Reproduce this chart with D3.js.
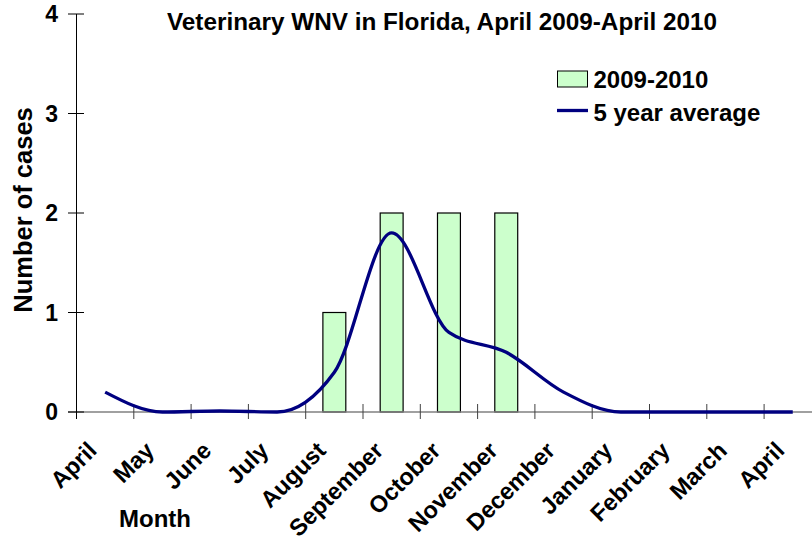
<!DOCTYPE html>
<html>
<head>
<meta charset="utf-8">
<script src="https://d3js.org/d3.v7.min.js"></script>
<style>
  body { margin: 0; background: #fff; }
  text { font-family: "Liberation Sans", Arial, sans-serif; font-weight: bold; fill: #000; }
</style>
</head>
<body>
<script>
// chart data
let months = ["April", "May", "June", "July", "August", "September", "October",
  "November", "December", "January", "February", "March", "April"];
let cases2009 = [0, 0, 0, 0, 1, 2, 2, 2, 0, 0, 0, 0, 0];
let fiveYearAvg = [0.2, 0, 0.01, 0, 0.4, 1.8, 0.8, 0.6, 0.2, 0, 0, 0, 0];
let yTicks = [0, 1, 2, 3, 4];

let svgWidth = 812;
let svgHeight = 540;

let svg = d3.select("body")
  .append("svg")
  .attr("width", svgWidth)
  .attr("height", svgHeight);

// plot area edges
let plotLeft = 76.5;
let step = 57.3;
let plotTop = 14;
let plotBottom = 412;

let xScale = d3.scaleBand()
  .domain(months.map((m, i) => i))
  .range([plotLeft, plotLeft + step * months.length])
  .padding(0);

let yScale = d3.scaleLinear()
  .domain([0, 4])
  .range([plotBottom, plotTop]);

let barW = xScale.bandwidth() * 0.4;
let center = i => xScale(i) + xScale.bandwidth() / 2;

// bars
svg.append("g")
  .selectAll("rect")
  .data(cases2009.map((v, i) => ({ i: i, v: v })).filter(d => d.v > 0))
  .enter()
  .append("rect")
  .attr("x", d => center(d.i) - barW / 2)
  .attr("y", d => yScale(d.v))
  .attr("width", barW)
  .attr("height", d => yScale(0) - yScale(d.v))
  .attr("fill", "#ccffcc")
  .attr("stroke", "#000")
  .attr("stroke-width", 1.2);

// x axis line + ticks at band edges
svg.append("line")
  .attr("x1", 68).attr("x2", svgWidth)
  .attr("y1", yScale(0)).attr("y2", yScale(0))
  .attr("stroke", "#808080")
  .attr("stroke-width", 1.5);

svg.append("g")
  .selectAll("line")
  .data(months.map((m, i) => i))
  .enter()
  .append("line")
  .attr("x1", d => xScale(d)).attr("x2", d => xScale(d))
  .attr("y1", yScale(0) - 8).attr("y2", yScale(0) + 7)
  .attr("stroke", "#404040")
  .attr("stroke-width", 1);

// y axis
svg.append("line")
  .attr("x1", plotLeft).attr("x2", plotLeft)
  .attr("y1", plotTop).attr("y2", plotBottom + 7)
  .attr("stroke", "#000")
  .attr("stroke-width", 1);

svg.append("g")
  .selectAll("line")
  .data(yTicks)
  .enter()
  .append("line")
  .attr("x1", 68).attr("x2", 84)
  .attr("y1", d => yScale(d)).attr("y2", d => yScale(d))
  .attr("stroke", "#000")
  .attr("stroke-width", 1);

svg.append("g")
  .selectAll("text")
  .data(yTicks)
  .enter()
  .append("text")
  .attr("x", 58)
  .attr("y", d => yScale(d) + 8)
  .attr("text-anchor", "end")
  .style("font-size", "23px")
  .text(d => d);

// month labels, slanted
svg.append("g")
  .selectAll("text")
  .data(months)
  .enter()
  .append("text")
  .attr("transform", (d, i) => `translate(${center(i) - 7}, 452) rotate(-45)`)
  .attr("text-anchor", "end")
  .style("font-size", "23.5px")
  .text(d => d);

// 5 year average line
let drawLine = d3.line()
  .x((d, i) => center(i))
  .y(d => yScale(d))
  .curve(d3.curveMonotoneX);

svg.append("path")
  .attr("d", drawLine(fiveYearAvg))
  .attr("fill", "none")
  .attr("stroke", "#000080")
  .attr("stroke-width", 3.3);

// titles
svg.append("text")
  .attr("x", 442)
  .attr("y", 30)
  .attr("text-anchor", "middle")
  .style("font-size", "24.3px")
  .text("Veterinary WNV in Florida, April 2009-April 2010");

svg.append("text")
  .attr("x", 155)
  .attr("y", 527)
  .attr("text-anchor", "middle")
  .style("font-size", "24px")
  .text("Month");

svg.append("text")
  .attr("transform", "translate(32, 210) rotate(-90)")
  .attr("text-anchor", "middle")
  .style("font-size", "25.5px")
  .text("Number of cases");

// legend
svg.append("rect")
  .attr("x", 557.5).attr("y", 71)
  .attr("width", 30).attr("height", 16)
  .attr("fill", "#ccffcc")
  .attr("stroke", "#000")
  .attr("stroke-width", 1);

svg.append("text")
  .attr("x", 593.5).attr("y", 87.5)
  .style("font-size", "24px")
  .text("2009-2010");

svg.append("line")
  .attr("x1", 557).attr("x2", 588)
  .attr("y1", 110.5).attr("y2", 110.5)
  .attr("stroke", "#000080")
  .attr("stroke-width", 3.3);

svg.append("text")
  .attr("x", 593.5).attr("y", 120.5)
  .style("font-size", "24px")
  .text("5 year average");
</script>
</body>
</html>
